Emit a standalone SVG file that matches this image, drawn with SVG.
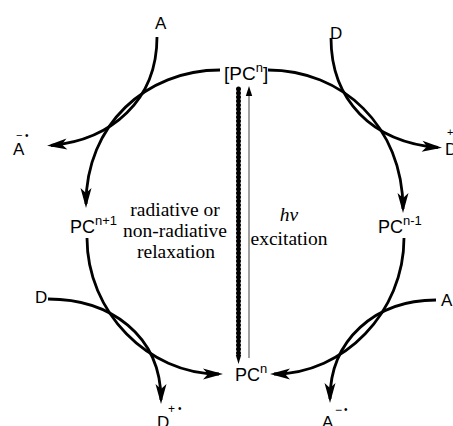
<svg xmlns="http://www.w3.org/2000/svg" width="453" height="426" viewBox="0 0 453 426">
<defs>
<style>
.s{font-family:"Liberation Sans",Arial,sans-serif;fill:#000}
.r{font-family:"Liberation Serif","Times New Roman",serif;fill:#000}
.c{fill:none;stroke:#000;stroke-width:2.8}
</style>
<marker id="ah" markerUnits="userSpaceOnUse" markerWidth="26" markerHeight="16" viewBox="-20 -8 26 16" refX="0" refY="0" orient="auto">
<path d="M4,0 L-16,-5.5 L-11,0 L-16,5.5 Z" fill="#000"/>
</marker>
</defs>
<rect width="453" height="426" fill="#fff"/>
<g id="connectors">
<path class="c" d="M220,70 C146,70 86,125 86,204" marker-end="url(#ah)"/>
<path class="c" d="M268,70 C342,70 403,126 403,209" marker-end="url(#ah)"/>
<path class="c" d="M87,238 C87,312 148,374 219,374" marker-end="url(#ah)"/>
<path class="c" d="M404,238 C404,312 344,374 274,374" marker-end="url(#ah)"/>
<path class="c" d="M157,37 C157,100 112,140 51,145.5" marker-end="url(#ah)"/>
<path class="c" d="M331,38 C331,100 372,142 438,147.5" marker-end="url(#ah)"/>
<path class="c" d="M48,299 C110,299 161,335 161,400" marker-end="url(#ah)"/>
<path class="c" d="M436,300 C375,300 330,340 330,399" marker-end="url(#ah)"/>
<g id="relaxation-arrow">
<line x1="238.5" y1="88" x2="238.5" y2="355" stroke="#000" stroke-width="2.2"/>
<line x1="238.5" y1="89" x2="238.5" y2="354" stroke="#000" stroke-width="5" stroke-linecap="round" stroke-dasharray="0 4"/>
<path d="M238.5,364 L235.8,355 L241.2,355 Z" fill="#000"/>
</g>
<g id="excitation-arrow">
<line x1="249" y1="358" x2="249" y2="94" stroke="#888" stroke-width="1.6"/>
<path d="M249,86 L245.8,96 L252.2,96 Z" fill="#000"/>
</g>
</g>
<g id="pc-top"><text class="s" x="224" y="80" font-size="19">[PC<tspan font-size="13" dy="-8">n</tspan><tspan dy="8">]</tspan></text></g>
<g id="pc-left"><text class="s" x="70" y="233" font-size="18">PC<tspan font-size="13" dy="-8">n+1</tspan></text></g>
<g id="pc-right"><text class="s" x="378" y="233" font-size="18">PC<tspan font-size="13" dy="-8">n-1</tspan></text></g>
<g id="pc-bottom"><text class="s" x="235" y="381" font-size="18">PC<tspan font-size="13" dy="-8">n</tspan></text></g>
<g id="A-top"><text class="s" x="155" y="29" font-size="17">A</text></g>
<g id="A-minus-left">
<text class="s" x="13" y="155" font-size="17">A</text>
<text class="s" x="16" y="139" font-size="11">−</text>
<text class="s" x="25" y="139" font-size="10">•</text>
</g>
<g id="D-top"><text class="s" x="330" y="39" font-size="17">D</text></g>
<g id="D-plus-right">
<text class="s" x="445" y="155" font-size="17">D</text>
<text class="s" x="447" y="136" font-size="11">+</text>
</g>
<g id="D-left"><text class="s" x="35" y="303" font-size="17">D</text></g>
<g id="D-plus-bottom">
<text class="s" x="157" y="428" font-size="17">D</text>
<text class="s" x="168" y="413" font-size="12">+</text>
<text class="s" x="178" y="412" font-size="10">•</text>
</g>
<g id="A-right"><text class="s" x="441" y="306" font-size="17">A</text></g>
<g id="A-minus-bottom">
<text class="s" x="322" y="428" font-size="17">A</text>
<text class="s" x="335" y="414" font-size="12">−</text>
<text class="s" x="344" y="413" font-size="10">•</text>
</g>
<g id="relaxation-label">
<text class="r" font-size="19.5" text-anchor="middle"><tspan x="175" y="216">radiative or</tspan><tspan x="175" y="237">non-radiative</tspan><tspan x="176" y="258">relaxation</tspan></text>
</g>
<g id="excitation-label">
<text class="r" x="289" y="221" font-size="19.5" font-style="italic" text-anchor="middle">hν</text>
<text class="r" x="289" y="245" font-size="19.5" text-anchor="middle">excitation</text>
</g>
</svg>
